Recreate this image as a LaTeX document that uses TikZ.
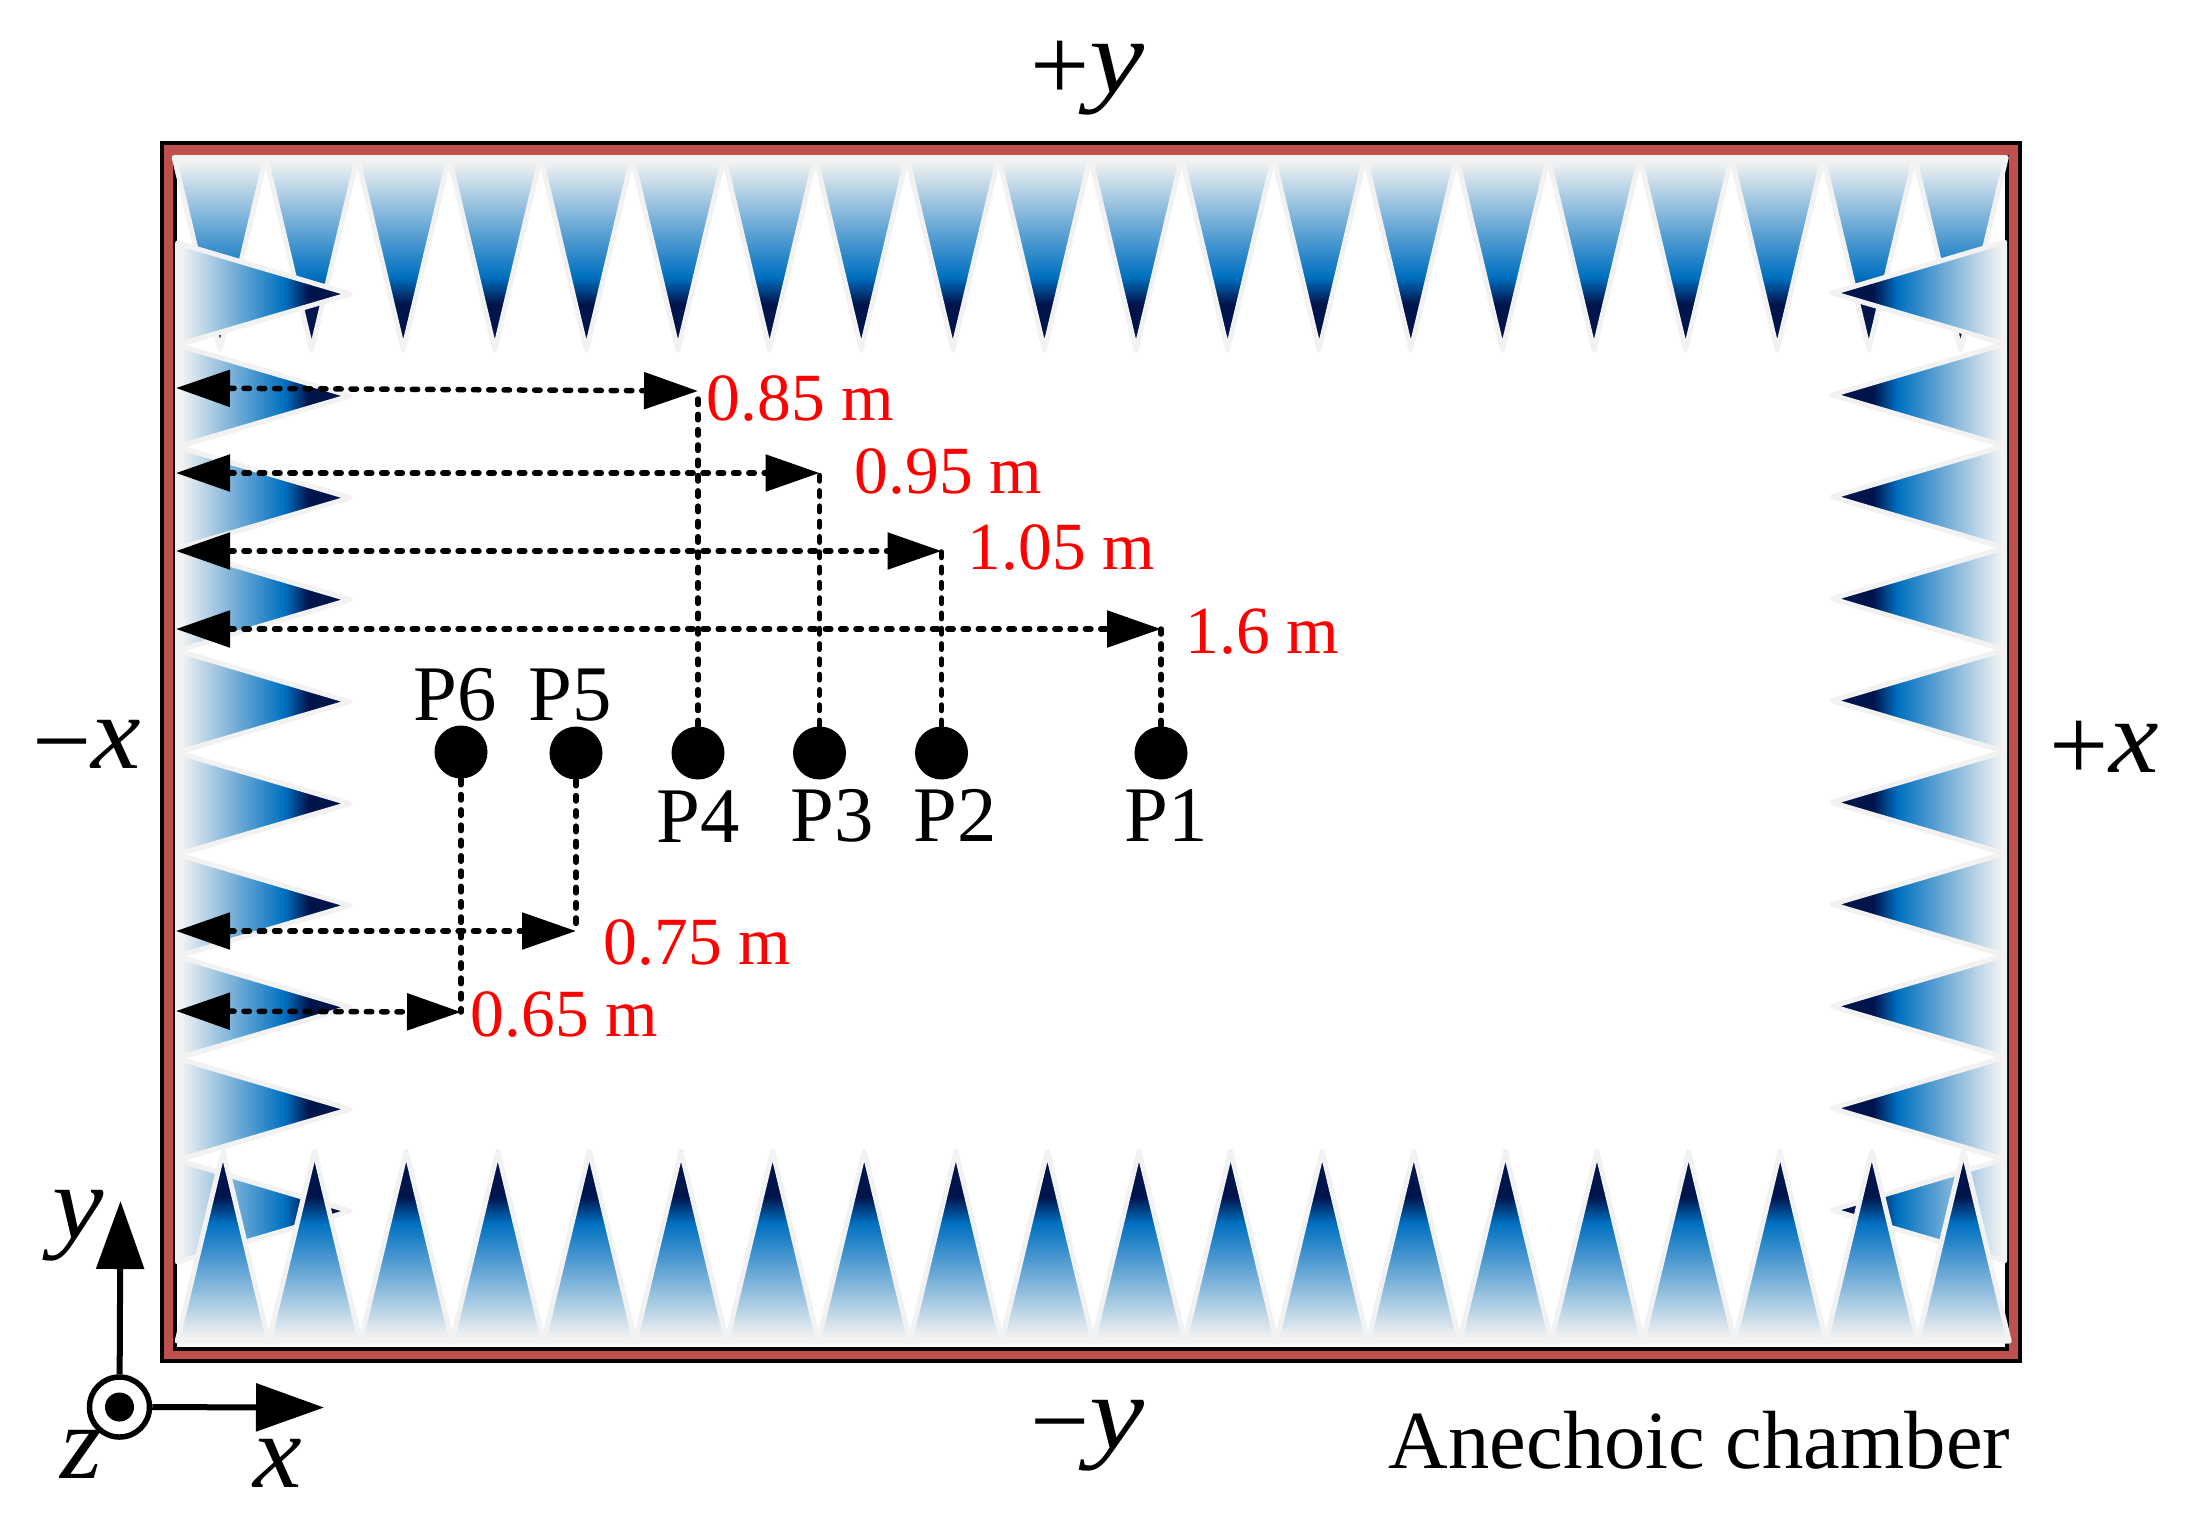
\documentclass[tikz,border=0pt]{standalone}
\usepackage{graphicx}
\usepackage{fontspec}
\setmainfont{Liberation Serif}
\usetikzlibrary{arrows.meta}
\definecolor{wallred}{HTML}{C0504D}
\definecolor{wedgeedge}{HTML}{F2F2F2}
\definecolor{wedgenavy}{HTML}{00144C}
\definecolor{wedgeblue}{HTML}{0070C0}
\pgfdeclareverticalshading{wedgefade}{100bp}{color(0bp)=(wedgenavy); color(25bp)=(wedgenavy); color(37bp)=(wedgenavy); color(44bp)=(wedgeblue); color(74bp)=(wedgeedge); color(100bp)=(wedgeedge)}
\newcommand{\axlet}[2][1.18]{\scalebox{#1}[1]{\textit{#2}}}
\newcommand{\axsign}[1]{\raisebox{-.08em}{#1}}
\tikzset{
  wedge/.style={shading=wedgefade,draw=wedgeedge,line width=.5mm,line join=round},
  dimline/.style={line width=.55mm,line cap=round,dash pattern=on .55mm off .98mm},
  dimarrow/.style={dimline,{Triangle[length=5.4mm,width=3.6mm]}-{Triangle[length=5.4mm,width=3.6mm]}},
  axisarrow/.style={line width=.6mm,-{Triangle[length=6.8mm,width=4.7mm]}},
  spot/.style={circle,fill=black,inner sep=0,minimum size=5.3mm},
  plabel/.style={anchor=base west,inner sep=0,font=\fontsize{22.4}{24}\selectfont},
  dist/.style={anchor=base west,inner sep=0,text=red,font=\fontsize{19.2}{22}\selectfont},
  side/.style={anchor=base west,inner sep=0,font=\fontsize{29.9}{32}\selectfont}
}
\begin{document}
\begin{tikzpicture}[x=.1mm,y=-.1mm]
\useasboundingbox (0,0) rectangle (2193,1525);
% chamber walls
\draw[line width=.4mm,fill=wallred] (162,143) rectangle (2020,1361);
\draw[line width=.4mm,fill=white] (175,157) rectangle (2007,1349);
% absorbers
\foreach \i in {0,...,19}
  \shade[wedge,shading angle=0] ({174.2+91.6*\i},157.5) -- ({265.8+91.6*\i},157.5) -- ({220+91.6*\i},350) -- cycle;
\foreach \j in {0,...,9} {
  \shade[wedge,shading angle=90] (177.5,{243+101.9*\j}) -- (177.5,{344.9+101.9*\j}) -- (350,{294+101.9*\j}) -- cycle;
  \shade[wedge,shading angle=-90] (2004.5,{242+101.9*\j}) -- (2004.5,{343.9+101.9*\j}) -- (1832,{293+101.9*\j}) -- cycle;
}
\foreach \i in {0,...,19}
  \shade[wedge,shading angle=180] ({177.2+91.6*\i},1341) -- ({268.8+91.6*\i},1341) -- ({223+91.6*\i},1151) -- cycle;
% points
\node[spot] (p1) at (1161,753) {};
\node[spot] (p2) at (941.5,753) {};
\node[spot] (p3) at (819.5,753) {};
\node[spot] (p4) at (698,753) {};
\node[spot] (p5) at (576,753) {};
\node[spot] (p6) at (461,752) {};
\node[plabel] (lp1) at (1124,841) {P1};
\node[plabel] (lp2) at (913,841) {P2};
\node[plabel] (lp3) at (790,841) {P3};
\node[plabel] (lp4) at (656,842) {P4};
\node[plabel] (lp5) at (528,720) {P5};
\node[plabel] (lp6) at (413,720) {P6};
% distances to the wall
\coordinate (w1) at (176,629);  \coordinate (c1) at (1161,629);
\coordinate (w2) at (176,551);  \coordinate (c2) at (941.5,551);
\coordinate (w3) at (176,473);  \coordinate (c3) at (819.5,473);
\coordinate (w4) at (176,388);  \coordinate (c4) at (698,391);
\coordinate (w5) at (176,931);  \coordinate (c5) at (576,931);
\coordinate (w6) at (176,1011); \coordinate (c6) at (461,1012);
\foreach \k in {1,...,6} {
  \draw[dimline] (p\k) -- (c\k);
  \draw[dimarrow] (w\k) -- (c\k);
}
\node[dist] (d1) at (1185,653) {1.6 m};
\node[dist] (d2) at (967,569) {1.05 m};
\node[dist] (d3) at (854,493) {0.95 m};
\node[dist] (d4) at (706,420) {0.85 m};
\node[dist] (d5) at (603,964) {0.75 m};
\node[dist] (d6) at (470,1036) {0.65 m};
% sides of the chamber
\node[side] (sideyp) at (1030,92) {\axsign{+}\axlet{y}};
\node[side] (sideym) at (1030,1448) {\axsign{−}\axlet{y}};
\node[side] (sidexm) at (32,768) {\axsign{−}\axlet[1.06]{x}};
\node[side] (sidexp) at (2049,772) {\axsign{+}\axlet[1.06]{x}};
\node[anchor=base west,inner sep=0,font=\fontsize{23.5}{26}\selectfont] (name) at (1388,1468) {Anechoic chamber};
% axes
\node[circle,draw,line width=.55mm,fill=white,inner sep=0,minimum size=6mm] (origin) at (119.5,1407) {};
\node[circle,fill=black,inner sep=0,minimum size=2.9mm] (core) at (origin) {};
\coordinate (ytip) at (120.5,1201);
\coordinate (xtip) at (324,1407.5);
\draw[axisarrow] (origin) -- (ytip);
\draw[axisarrow] (origin) -- (xtip);
\node[side] (axy) at (52,1238) {\axlet[1.1]{y}};
\node[side] (axx) at (253,1487) {\axlet[1.04]{x}};
\node[side] (axz) at (60,1478) {\axlet[1.02]{z}};
\end{tikzpicture}
\end{document}
